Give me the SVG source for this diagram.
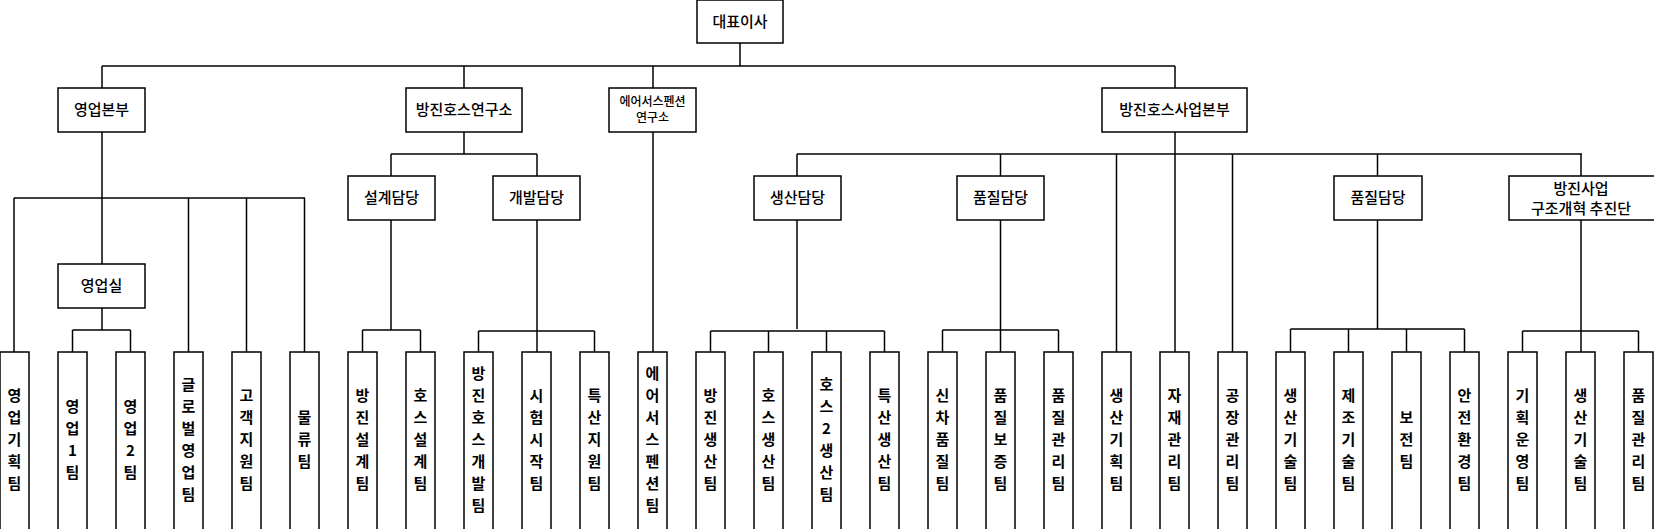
<svg xmlns="http://www.w3.org/2000/svg" width="1654" height="529" viewBox="0 0 1654 529">
<style>
rect{fill:#fff;stroke:#000;stroke-width:1.5}
.c line{stroke:#000;stroke-width:1.5}
text{font-family:"Noto Sans CJK KR","Noto Sans",sans-serif;font-size:15px;fill:#000;text-anchor:middle;font-weight:500}
tspan{font-weight:bold}
.s{font-size:12px}
</style>
<rect x="-2" y="-2" width="1658" height="533" style="stroke:none"/>
<g class="c">
<line x1="740" y1="43" x2="740" y2="66"/>
<line x1="102" y1="66" x2="1175" y2="66"/>
<line x1="102" y1="66" x2="102" y2="88"/>
<line x1="464" y1="66" x2="464" y2="88"/>
<line x1="653" y1="66" x2="653" y2="88"/>
<line x1="1175" y1="66" x2="1175" y2="88"/>
<line x1="102" y1="132" x2="102" y2="264"/>
<line x1="14" y1="198" x2="305" y2="198"/>
<line x1="14" y1="198" x2="14" y2="352"/>
<line x1="188.5" y1="198" x2="188.5" y2="352"/>
<line x1="246.5" y1="198" x2="246.5" y2="352"/>
<line x1="304.5" y1="198" x2="304.5" y2="352"/>
<line x1="102" y1="308" x2="102" y2="330"/>
<line x1="72.5" y1="330" x2="130.5" y2="330"/>
<line x1="72.5" y1="330" x2="72.5" y2="352"/>
<line x1="130.5" y1="330" x2="130.5" y2="352"/>
<line x1="464" y1="132" x2="464" y2="154"/>
<line x1="391" y1="154" x2="537" y2="154"/>
<line x1="391" y1="154" x2="391" y2="176"/>
<line x1="537" y1="154" x2="537" y2="176"/>
<line x1="391" y1="220" x2="391" y2="330"/>
<line x1="362.5" y1="330" x2="420.5" y2="330"/>
<line x1="362.5" y1="330" x2="362.5" y2="352"/>
<line x1="420.5" y1="330" x2="420.5" y2="352"/>
<line x1="537" y1="220" x2="537" y2="352"/>
<line x1="478.5" y1="331" x2="594.5" y2="331"/>
<line x1="478.5" y1="331" x2="478.5" y2="352"/>
<line x1="594.5" y1="331" x2="594.5" y2="352"/>
<line x1="653" y1="132" x2="653" y2="352"/>
<line x1="1175" y1="132" x2="1175" y2="352"/>
<line x1="797" y1="154" x2="1582" y2="154"/>
<line x1="797" y1="154" x2="797" y2="176"/>
<line x1="1000.5" y1="154" x2="1000.5" y2="176"/>
<line x1="1116.5" y1="154" x2="1116.5" y2="352"/>
<line x1="1232.5" y1="154" x2="1232.5" y2="352"/>
<line x1="1377.5" y1="154" x2="1377.5" y2="176"/>
<line x1="1581" y1="154" x2="1581" y2="176"/>
<line x1="797" y1="220" x2="797" y2="329"/>
<line x1="710.5" y1="331" x2="884.5" y2="331"/>
<line x1="710.5" y1="331" x2="710.5" y2="352"/>
<line x1="768.5" y1="331" x2="768.5" y2="352"/>
<line x1="826.5" y1="331" x2="826.5" y2="352"/>
<line x1="884.5" y1="331" x2="884.5" y2="352"/>
<line x1="1000.5" y1="220" x2="1000.5" y2="352"/>
<line x1="942.5" y1="330" x2="1058.5" y2="330"/>
<line x1="942.5" y1="330" x2="942.5" y2="352"/>
<line x1="1058.5" y1="330" x2="1058.5" y2="352"/>
<line x1="1377.5" y1="220" x2="1377.5" y2="329"/>
<line x1="1290.5" y1="329" x2="1464.5" y2="329"/>
<line x1="1290.5" y1="329" x2="1290.5" y2="352"/>
<line x1="1348.5" y1="329" x2="1348.5" y2="352"/>
<line x1="1406.5" y1="329" x2="1406.5" y2="352"/>
<line x1="1464.5" y1="329" x2="1464.5" y2="352"/>
<line x1="1581" y1="220" x2="1581" y2="352"/>
<line x1="1522.5" y1="331" x2="1638.5" y2="331"/>
<line x1="1522.5" y1="331" x2="1522.5" y2="352"/>
<line x1="1638.5" y1="331" x2="1638.5" y2="352"/>
</g>
<g id="ceo"><rect x="697" y="0" width="86" height="43"/><text x="740" y="27">대표이사</text></g>
<g id="sales"><rect x="58" y="88" width="87" height="44"/><text x="101.5" y="115">영업본부</text></g>
<g id="lab"><rect x="406" y="88" width="116" height="44"/><text x="464" y="115">방진호스연구소</text></g>
<g id="airlab"><rect x="609" y="88" width="87" height="44"/><text class="s" x="652.5" y="106">에어서스펜션</text><text class="s" x="652.5" y="122">연구소</text></g>
<g id="biz"><rect x="1102" y="88" width="145" height="44"/><text x="1174.5" y="115">방진호스사업본부</text></g>
<g id="salesroom"><rect x="58" y="264" width="87" height="44"/><text x="101.5" y="291">영업실</text></g>
<g id="design"><rect x="348" y="176" width="87" height="44"/><text x="391.5" y="203">설계담당</text></g>
<g id="dev"><rect x="493" y="176" width="87" height="44"/><text x="536.5" y="203">개발담당</text></g>
<g id="prod"><rect x="754" y="176" width="87" height="44"/><text x="797.5" y="203">생산담당</text></g>
<g id="qual1"><rect x="957" y="176" width="87" height="44"/><text x="1000.5" y="203">품질담당</text></g>
<g id="qual2"><rect x="1334" y="176" width="88" height="44"/><text x="1378" y="203">품질담당</text></g>
<g id="reform"><rect x="1509" y="176" width="146" height="44"/><text x="1581" y="194">방진사업</text><text x="1581" y="214">구조개혁 추진단</text></g>
<g id="t0"><rect x="0" y="352" width="29" height="180"/><text x="14.5" y="401"><tspan x="14.5">영</tspan><tspan x="14.5" dy="22">업</tspan><tspan x="14.5" dy="22">기</tspan><tspan x="14.5" dy="22">획</tspan><tspan x="14.5" dy="22">팀</tspan></text></g>
<g id="t1"><rect x="58" y="352" width="29" height="180"/><text x="72.5" y="412"><tspan x="72.5">영</tspan><tspan x="72.5" dy="22">업</tspan><tspan x="72.5" dy="22">1</tspan><tspan x="72.5" dy="22">팀</tspan></text></g>
<g id="t2"><rect x="116" y="352" width="29" height="180"/><text x="130.5" y="412"><tspan x="130.5">영</tspan><tspan x="130.5" dy="22">업</tspan><tspan x="130.5" dy="22">2</tspan><tspan x="130.5" dy="22">팀</tspan></text></g>
<g id="t3"><rect x="174" y="352" width="29" height="180"/><text x="188.5" y="390"><tspan x="188.5">글</tspan><tspan x="188.5" dy="22">로</tspan><tspan x="188.5" dy="22">벌</tspan><tspan x="188.5" dy="22">영</tspan><tspan x="188.5" dy="22">업</tspan><tspan x="188.5" dy="22">팀</tspan></text></g>
<g id="t4"><rect x="232" y="352" width="29" height="180"/><text x="246.5" y="401"><tspan x="246.5">고</tspan><tspan x="246.5" dy="22">객</tspan><tspan x="246.5" dy="22">지</tspan><tspan x="246.5" dy="22">원</tspan><tspan x="246.5" dy="22">팀</tspan></text></g>
<g id="t5"><rect x="290" y="352" width="29" height="180"/><text x="304.5" y="423"><tspan x="304.5">물</tspan><tspan x="304.5" dy="22">류</tspan><tspan x="304.5" dy="22">팀</tspan></text></g>
<g id="t6"><rect x="348" y="352" width="29" height="180"/><text x="362.5" y="401"><tspan x="362.5">방</tspan><tspan x="362.5" dy="22">진</tspan><tspan x="362.5" dy="22">설</tspan><tspan x="362.5" dy="22">계</tspan><tspan x="362.5" dy="22">팀</tspan></text></g>
<g id="t7"><rect x="406" y="352" width="29" height="180"/><text x="420.5" y="401"><tspan x="420.5">호</tspan><tspan x="420.5" dy="22">스</tspan><tspan x="420.5" dy="22">설</tspan><tspan x="420.5" dy="22">계</tspan><tspan x="420.5" dy="22">팀</tspan></text></g>
<g id="t8"><rect x="464" y="352" width="29" height="180"/><text x="478.5" y="379"><tspan x="478.5">방</tspan><tspan x="478.5" dy="22">진</tspan><tspan x="478.5" dy="22">호</tspan><tspan x="478.5" dy="22">스</tspan><tspan x="478.5" dy="22">개</tspan><tspan x="478.5" dy="22">발</tspan><tspan x="478.5" dy="22">팀</tspan></text></g>
<g id="t9"><rect x="522" y="352" width="29" height="180"/><text x="536.5" y="401"><tspan x="536.5">시</tspan><tspan x="536.5" dy="22">험</tspan><tspan x="536.5" dy="22">시</tspan><tspan x="536.5" dy="22">작</tspan><tspan x="536.5" dy="22">팀</tspan></text></g>
<g id="t10"><rect x="580" y="352" width="29" height="180"/><text x="594.5" y="401"><tspan x="594.5">특</tspan><tspan x="594.5" dy="22">산</tspan><tspan x="594.5" dy="22">지</tspan><tspan x="594.5" dy="22">원</tspan><tspan x="594.5" dy="22">팀</tspan></text></g>
<g id="t11"><rect x="638" y="352" width="29" height="180"/><text x="652.5" y="379"><tspan x="652.5">에</tspan><tspan x="652.5" dy="22">어</tspan><tspan x="652.5" dy="22">서</tspan><tspan x="652.5" dy="22">스</tspan><tspan x="652.5" dy="22">펜</tspan><tspan x="652.5" dy="22">션</tspan><tspan x="652.5" dy="22">팀</tspan></text></g>
<g id="t12"><rect x="696" y="352" width="29" height="180"/><text x="710.5" y="401"><tspan x="710.5">방</tspan><tspan x="710.5" dy="22">진</tspan><tspan x="710.5" dy="22">생</tspan><tspan x="710.5" dy="22">산</tspan><tspan x="710.5" dy="22">팀</tspan></text></g>
<g id="t13"><rect x="754" y="352" width="29" height="180"/><text x="768.5" y="401"><tspan x="768.5">호</tspan><tspan x="768.5" dy="22">스</tspan><tspan x="768.5" dy="22">생</tspan><tspan x="768.5" dy="22">산</tspan><tspan x="768.5" dy="22">팀</tspan></text></g>
<g id="t14"><rect x="812" y="352" width="29" height="180"/><text x="826.5" y="390"><tspan x="826.5">호</tspan><tspan x="826.5" dy="22">스</tspan><tspan x="826.5" dy="22">2</tspan><tspan x="826.5" dy="22">생</tspan><tspan x="826.5" dy="22">산</tspan><tspan x="826.5" dy="22">팀</tspan></text></g>
<g id="t15"><rect x="870" y="352" width="29" height="180"/><text x="884.5" y="401"><tspan x="884.5">특</tspan><tspan x="884.5" dy="22">산</tspan><tspan x="884.5" dy="22">생</tspan><tspan x="884.5" dy="22">산</tspan><tspan x="884.5" dy="22">팀</tspan></text></g>
<g id="t16"><rect x="928" y="352" width="29" height="180"/><text x="942.5" y="401"><tspan x="942.5">신</tspan><tspan x="942.5" dy="22">차</tspan><tspan x="942.5" dy="22">품</tspan><tspan x="942.5" dy="22">질</tspan><tspan x="942.5" dy="22">팀</tspan></text></g>
<g id="t17"><rect x="986" y="352" width="29" height="180"/><text x="1000.5" y="401"><tspan x="1000.5">품</tspan><tspan x="1000.5" dy="22">질</tspan><tspan x="1000.5" dy="22">보</tspan><tspan x="1000.5" dy="22">증</tspan><tspan x="1000.5" dy="22">팀</tspan></text></g>
<g id="t18"><rect x="1044" y="352" width="29" height="180"/><text x="1058.5" y="401"><tspan x="1058.5">품</tspan><tspan x="1058.5" dy="22">질</tspan><tspan x="1058.5" dy="22">관</tspan><tspan x="1058.5" dy="22">리</tspan><tspan x="1058.5" dy="22">팀</tspan></text></g>
<g id="t19"><rect x="1102" y="352" width="29" height="180"/><text x="1116.5" y="401"><tspan x="1116.5">생</tspan><tspan x="1116.5" dy="22">산</tspan><tspan x="1116.5" dy="22">기</tspan><tspan x="1116.5" dy="22">획</tspan><tspan x="1116.5" dy="22">팀</tspan></text></g>
<g id="t20"><rect x="1160" y="352" width="29" height="180"/><text x="1174.5" y="401"><tspan x="1174.5">자</tspan><tspan x="1174.5" dy="22">재</tspan><tspan x="1174.5" dy="22">관</tspan><tspan x="1174.5" dy="22">리</tspan><tspan x="1174.5" dy="22">팀</tspan></text></g>
<g id="t21"><rect x="1218" y="352" width="29" height="180"/><text x="1232.5" y="401"><tspan x="1232.5">공</tspan><tspan x="1232.5" dy="22">장</tspan><tspan x="1232.5" dy="22">관</tspan><tspan x="1232.5" dy="22">리</tspan><tspan x="1232.5" dy="22">팀</tspan></text></g>
<g id="t22"><rect x="1276" y="352" width="29" height="180"/><text x="1290.5" y="401"><tspan x="1290.5">생</tspan><tspan x="1290.5" dy="22">산</tspan><tspan x="1290.5" dy="22">기</tspan><tspan x="1290.5" dy="22">술</tspan><tspan x="1290.5" dy="22">팀</tspan></text></g>
<g id="t23"><rect x="1334" y="352" width="29" height="180"/><text x="1348.5" y="401"><tspan x="1348.5">제</tspan><tspan x="1348.5" dy="22">조</tspan><tspan x="1348.5" dy="22">기</tspan><tspan x="1348.5" dy="22">술</tspan><tspan x="1348.5" dy="22">팀</tspan></text></g>
<g id="t24"><rect x="1392" y="352" width="29" height="180"/><text x="1406.5" y="423"><tspan x="1406.5">보</tspan><tspan x="1406.5" dy="22">전</tspan><tspan x="1406.5" dy="22">팀</tspan></text></g>
<g id="t25"><rect x="1450" y="352" width="29" height="180"/><text x="1464.5" y="401"><tspan x="1464.5">안</tspan><tspan x="1464.5" dy="22">전</tspan><tspan x="1464.5" dy="22">환</tspan><tspan x="1464.5" dy="22">경</tspan><tspan x="1464.5" dy="22">팀</tspan></text></g>
<g id="t26"><rect x="1508" y="352" width="29" height="180"/><text x="1522.5" y="401"><tspan x="1522.5">기</tspan><tspan x="1522.5" dy="22">획</tspan><tspan x="1522.5" dy="22">운</tspan><tspan x="1522.5" dy="22">영</tspan><tspan x="1522.5" dy="22">팀</tspan></text></g>
<g id="t27"><rect x="1566" y="352" width="29" height="180"/><text x="1580.5" y="401"><tspan x="1580.5">생</tspan><tspan x="1580.5" dy="22">산</tspan><tspan x="1580.5" dy="22">기</tspan><tspan x="1580.5" dy="22">술</tspan><tspan x="1580.5" dy="22">팀</tspan></text></g>
<g id="t28"><rect x="1624" y="352" width="29" height="180"/><text x="1638.5" y="401"><tspan x="1638.5">품</tspan><tspan x="1638.5" dy="22">질</tspan><tspan x="1638.5" dy="22">관</tspan><tspan x="1638.5" dy="22">리</tspan><tspan x="1638.5" dy="22">팀</tspan></text></g>
</svg>
